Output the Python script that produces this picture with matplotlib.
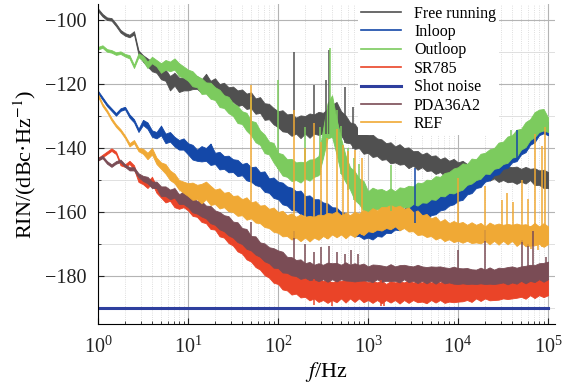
import numpy as np
import matplotlib
matplotlib.use('Agg')
import matplotlib.pyplot as plt
from matplotlib.lines import Line2D
from matplotlib.ticker import MultipleLocator, LogLocator, NullFormatter

plt.rcParams['font.family'] = ['Liberation Serif', 'DejaVu Serif']
plt.rcParams['mathtext.fontset'] = 'stix'

# frequency grid, 20 points per decade, 1 Hz .. 100 kHz
freq = np.logspace(0, 5, 101)

# RIN bands (lower / upper edge of the noisy trace), dBc/Hz
free_lo = [-97.2, -98.9, -100, -100.2, -101.9, -103.9, -104.9, -105.4, -104.5, -110.8, -113, -114.5, -116, -116.5, -118.5, -119, -122, -120.5, -122.5, -122,
           -122, -121.6, -121.5, -122.7, -121.5, -123.6, -122.5, -124.7, -124.5, -125.8, -125.5, -126.9, -126.5, -127.8, -127.5, -129.3, -129, -131.2, -131, -132.6,
           -133.5, -134.8, -135, -136.2, -135.5, -136.9, -135.5, -136.8, -135.5, -135.9, -135.5, -135.7, -134.5, -134.8, -136, -138.3, -138.5, -140.3, -140, -141.8,
           -141.5, -142.8, -142.5, -143.7, -143.5, -144.8, -144.5, -145.2, -145, -146.3, -145.5, -146.8, -146, -147.2, -147, -148.1, -147.5, -148.7, -148, -149.1,
           -148.5, -149.2, -148.5, -149.6, -149, -149.7, -149, -150.2, -149.5, -150.6, -150, -150.7, -150.5, -151.2, -150.5, -151.1, -150, -151.6, -151.5, -152.5, -152.5]
free_hi = [-96.4, -98.1, -99.2, -99.4, -101.1, -103.1, -104.1, -104.6, -103.5, -109.5, -111, -112, -113, -113.5, -115, -115.5, -117.5, -116.5, -118, -118,
           -118.5, -117.2, -117.5, -118.6, -116.8, -119, -118.2, -120, -119.6, -121, -120.8, -122, -121.7, -123, -122.6, -124.5, -124.1, -126, -126.2, -127.5,
           -128.5, -128.2, -129.5, -129.3, -130.5, -129.8, -130, -129.2, -129.5, -128.7, -129, -127.8, -126.5, -125.6, -128.5, -129.8, -132, -132.4, -134.5, -134.8,
           -136, -135.8, -137, -137.3, -138.5, -138.2, -139.5, -138.8, -140, -139.8, -141, -140.9, -142, -141.4, -142.5, -142.3, -143.5, -142.9, -144, -143.4,
           -144.5, -144, -145, -144.3, -145, -144.8, -145, -144.7, -145.5, -145.2, -146, -145.7, -146, -145.8, -146.5, -145.9, -146.5, -146.3, -147, -146.8, -147.5]

inloop_lo = [-122.9, -124.9, -126.9, -128.4, -129.9, -128.4, -127.9, -130.5, -132, -135, -132.8, -134, -136.5, -137, -136, -138.5, -138, -139.5, -140.5, -140.5,
             -142, -143.6, -144, -144.2, -144, -145.3, -145, -146.7, -146.5, -147.6, -147.5, -148.8, -148.5, -150.1, -150.5, -151.6, -152, -153.7, -154, -155.6,
             -156, -157.6, -158, -159.4, -159.5, -160.7, -161, -162.2, -162, -163.3, -163, -164.1, -164, -165.6, -165.5, -166.7, -166.5, -167.6, -167.5, -168.4,
             -168, -168.6, -167.5, -167.7, -166.5, -166.6, -165.5, -165.7, -164.5, -164.6, -163.5, -163.7, -162, -162.3, -161, -160.7, -159.5, -159.2, -158, -157.6,
             -156.5, -156.2, -154.5, -154.1, -152.5, -152.2, -150.5, -150.1, -148.5, -148.2, -146.5, -146.2, -144.5, -144.1, -142, -141.3, -139, -138.2, -136, -135.4, -136]
inloop_hi = [-122.1, -124.1, -126.1, -127.6, -129.1, -127.6, -127.1, -129.5, -131, -134, -131.2, -132, -134.5, -135, -133, -135.5, -135, -136.5, -137.5, -137,
             -138.5, -139, -140.5, -139.4, -140, -138.6, -141.5, -141.2, -142.5, -142.4, -143.5, -143.7, -145, -144.6, -146, -145.8, -147.5, -147.3, -149.5, -149.2,
             -150.5, -150.8, -152, -152.4, -153.5, -153.3, -155, -154.8, -156, -156, -157, -157.3, -158.5, -158.6, -160, -160.3, -161.5, -161.4, -162.5, -162.4,
             -163, -162.4, -162.5, -161.5, -161.5, -160.4, -160, -159, -159, -157.6, -157.5, -156.6, -156.5, -155.4, -155, -154, -153.5, -152.6, -152, -151.2,
             -150, -148.7, -148, -146.6, -146, -144.7, -144, -142.6, -142, -140.6, -140, -138.6, -138, -136.7, -136, -134.2, -133, -130.6, -130, -129.6, -132]

outloop_lo = [-109.2, -108.7, -109.9, -110.2, -110.9, -110.6, -111.4, -112, -115, -111.6, -112.8, -115, -113.5, -114.5, -116.5, -115.5, -116, -115.5, -117.5, -118,
              -119, -120.7, -121, -123.1, -123, -124.6, -125, -127.2, -127.5, -129.1, -130, -132.2, -132.5, -134.6, -136, -138.2, -139, -141.6, -142, -144.5,
              -146.5, -148.6, -149, -150.3, -150, -150.8, -149.5, -150.2, -149, -148.5, -143, -137, -136.5, -142, -148, -150.6, -153, -156.2, -157.5, -159.6,
              -160, -159.8, -159, -159.7, -159.5, -159.6, -159.5, -159.4, -158.5, -158.6, -157.5, -158, -157, -157.1, -156, -156.2, -155, -155.1, -154, -154.2,
              -153.5, -153, -151.5, -151.1, -150, -149.6, -148, -148.1, -146.5, -146.2, -145, -144.6, -143, -142.7, -140.5, -139.7, -137.5, -136.6, -135, -134.5, -135]
outloop_hi = [-108.4, -107.9, -109.1, -109.4, -110.1, -109.8, -110.6, -111, -114, -110.4, -111.2, -113, -111.5, -112.5, -113.5, -112.5, -113, -112, -113.5, -114.5,
              -115.5, -116, -117.5, -118.2, -119.5, -119.6, -121, -121.8, -123.5, -124, -126, -126.8, -128.5, -129, -131.5, -131.9, -134.5, -135.8, -138, -138.4,
              -141.5, -141.9, -143.5, -143.4, -144.5, -144.3, -144.5, -143.6, -143.5, -142.5, -134, -126, -123.5, -131, -137, -142.3, -146, -147.2, -149.5, -150.3,
              -153.5, -152.4, -153, -152.8, -153.5, -152.6, -153.5, -152.3, -152.5, -151.8, -152, -150.8, -151, -149.9, -150, -148.8, -149, -147.8, -147.5, -146.4,
              -146, -144.8, -145, -143.3, -143.5, -141.8, -141.5, -140.4, -140, -138.3, -138, -136.4, -136, -134.3, -134, -131.9, -131, -128.8, -128, -127.8, -130.5]

sr785_lo = [-143.9, -142.9, -141.9, -140.9, -141.9, -145.4, -145.9, -145, -146.6, -150.6, -151.3, -152.5, -151, -154, -155.5, -157, -156.5, -158.5, -159, -158.5,
            -159.5, -161.2, -161.5, -163.1, -163.5, -165.3, -165.5, -167.6, -168, -169.7, -170.5, -172.3, -173, -174.8, -175.5, -177.2, -178, -179.7, -180.5, -182.1,
            -182.5, -184.2, -184.5, -185.8, -185.5, -186.7, -186.5, -187.6, -187, -188.1, -187.5, -188.4, -187.5, -188.2, -187, -188.3, -187, -188.1, -187, -188.2,
            -187.5, -188.4, -187.5, -188.5, -187.5, -188.3, -187.5, -188.6, -187.5, -188.4, -187.5, -188.2, -188, -188.5, -187.5, -188.3, -187.5, -188.4, -188, -188.2,
            -188, -187.9, -187.5, -188.1, -187, -187.8, -187, -187.6, -187.5, -187.4, -187, -187.2, -187, -186.8, -186.5, -187.1, -186, -186.9, -186, -186.6, -186]
sr785_hi = [-143.1, -142.1, -141.1, -140.1, -141.1, -144.6, -145.1, -144, -145.4, -149.4, -149.7, -150.5, -149, -152, -153.5, -154, -153.5, -155.5, -156, -155,
            -155.5, -155.9, -157, -157.3, -159, -159.3, -161, -161.2, -163, -163.4, -165.5, -165.8, -167.5, -168.2, -170, -170.3, -172.5, -172.8, -175, -175.4,
            -177, -177.3, -178.5, -178.6, -179.5, -179.4, -180.5, -180.3, -181, -180.8, -181.5, -181.2, -182, -181.4, -181.5, -181.1, -181.5, -181.4, -181.5, -181.3,
            -182, -181.5, -182, -181.4, -182.5, -181.6, -182, -181.7, -182, -181.3, -182, -181.8, -182, -181.4, -182, -181.7, -182, -181.5, -182, -181.4,
            -182.5, -181.6, -182, -181.7, -182, -181.3, -182, -181.1, -182, -181.2, -181.5, -181, -181, -180.8, -181, -180.5, -181, -180.4, -181, -180.3, -181]

shot_f = [1, 1e5]
shot = [-190, -190]

pda_lo = [-143.9, -143.2, -144.9, -145.9, -144.9, -144.4, -145.9, -147, -147, -149.1, -150.3, -151, -152.5, -152.5, -155, -155, -156, -155.5, -157.5, -157.5,
          -158.5, -160.1, -160.5, -161.4, -162, -163.5, -164, -165.4, -166, -167.3, -168, -169.4, -170, -171.5, -172, -173.3, -174, -175.4, -176, -177.4,
          -177.5, -178.9, -179, -179.8, -180, -180.9, -180.5, -181.3, -181, -181.6, -181, -181.8, -181, -181.7, -181, -181.4, -181.5, -181.7, -181.5, -181.4,
          -181.5, -181.9, -181, -181.8, -181.5, -181.6, -181.5, -182, -181, -181.9, -181.5, -182.2, -181.5, -182.3, -181.5, -182.4, -181.5, -182.3, -182, -182.4,
          -182.5, -182.3, -182.5, -182.4, -182.5, -182.3, -182.5, -182.4, -182.5, -182.3, -182, -182.6, -182, -182.4, -181.5, -182.3, -181.5, -181.9, -181, -181.8, -181]
pda_hi = [-143.1, -142.4, -144.1, -145.1, -144.1, -143.6, -145.1, -146, -146, -147.9, -148.7, -149, -150.5, -150.5, -152, -152, -153, -152.5, -154.5, -153.5,
          -155, -155.3, -156.5, -156.6, -158, -158.1, -159.5, -160, -161, -161.3, -163, -163.2, -165, -165.3, -167.5, -167.6, -169.5, -169.8, -171, -171.3,
          -172, -172.4, -174, -174.1, -175, -174.8, -176, -175.6, -176.5, -176, -176.5, -175.8, -176, -175.9, -176.5, -175.7, -176.5, -176, -176.5, -176.1,
          -177, -176.4, -176.5, -176.7, -177, -176.3, -177, -176.6, -176.5, -176.8, -177, -176.5, -177, -177.2, -177, -177.1, -177, -177.3, -177.5, -177.1,
          -177.5, -177.6, -177.5, -177.9, -178, -177.4, -178, -177.3, -178, -177.4, -177.5, -177.2, -177, -177.4, -177, -176.8, -176.5, -176.6, -176, -175.9, -175.5]

ref_lo = [-123.9, -126.9, -128.9, -131.4, -133.4, -134.9, -136.9, -139.5, -138.5, -141, -141.8, -143.5, -142, -145, -146.5, -148, -150, -151, -153, -154,
          -155, -156.2, -156, -157.3, -156, -157.8, -157.5, -158.9, -158.5, -159.8, -160, -161.2, -161, -162.4, -162, -163.3, -163.5, -164.7, -165, -166.2,
          -166.5, -167.6, -167.5, -168.6, -168, -169.1, -168, -169.2, -168, -168.7, -167.5, -168.3, -167, -167.9, -167, -168.2, -167, -167.8, -166.5, -167.2,
          -166, -166.3, -165.5, -165.8, -165, -165.4, -164.5, -165.7, -165, -166.1, -166, -167.2, -167, -167.8, -167.5, -168.6, -168, -169.1, -168.5, -169.4,
          -169, -169.6, -169, -169.7, -169.5, -169.8, -169, -170.1, -169, -170.2, -169, -170.1, -169, -170.6, -169.5, -170.7, -170.5, -170.4, -170, -170.9, -170]
ref_hi = [-123.1, -126.1, -128.1, -130.6, -132.6, -134.1, -136.1, -138.5, -137.5, -140, -140.2, -141.5, -140, -143, -144.5, -145, -147, -148, -150, -150.5,
          -151, -150.8, -151.5, -151.2, -150.5, -151.8, -153, -152.6, -154, -153.7, -155, -154.8, -156, -155.4, -157, -156.6, -158, -157.8, -159, -158.6,
          -160, -159.6, -161, -160.4, -161.5, -160.7, -161.5, -161.2, -161.5, -160.8, -161, -160.3, -160.5, -159.8, -161, -160.2, -161, -159.9, -160.5, -159.4,
          -160, -158.8, -159.5, -158.4, -158.5, -157.8, -158.5, -158, -159, -158.6, -160, -159.5, -161, -160.6, -162, -161.4, -163, -162.2, -163.5, -162.8,
          -163.5, -163.1, -164, -163.2, -164, -163.4, -164.5, -163.3, -164, -163.6, -164, -163.7, -164, -163.6, -164, -163.8, -164.5, -163.4, -164.5, -163.5, -164.5]

# narrow spectral lines (frequency in Hz, level in dBc/Hz)
free_spk_f = [150, 250, 345, 370, 555, 680]
free_spk = [-109.9, -120.3, -118.8, -109.4, -120.8, -127.3]
inloop_spk_f = [18, 3300, 45000]
inloop_spk = [-139.5, -146.4, -134.4]
outloop_spk_f = [50, 100, 200, 290, 375, 450, 500, 600, 700, 800, 1800, 39000]
outloop_spk = [-124, -118.8, -133.5, -133.5, -108.6, -128, -133, -140, -143, -145, -145.3, -134.4]
sr785_spk_f = [250, 400, 1400, 1500]
sr785_spk = [-189, -189.5, -189.5, -189.5]
pda_spk_f = [50, 150, 200, 250, 300, 370, 450, 550, 650, 780, 10000, 20000, 51000, 60000, 68000, 95000]
pda_spk = [-163, -166, -170, -172.4, -171, -170.5, -172.4, -173, -172, -173, -172, -165.6, -168.8, -170, -166, -174]
ref_spk_f = [50, 150, 200, 250, 300, 350, 450, 530, 600, 720, 850, 10000, 20000, 31000, 35000, 41000, 51000, 60000,
             65000, 72000, 78000, 85000, 93000]
ref_spk = [-120.3, -128, -140, -132.3, -138, -137, -134, -139, -141, -140.6, -143, -149.5, -152, -156.3, -154, -157, -150, -156,
           -171.5, -135.5, -172, -139.5, -133.5]

labels = ['Free running', 'Inloop', 'Outloop', 'SR785', 'Shot noise', 'PDA36A2', 'REF']
colors = ['#505050', '#1448a8', '#7ccb5e', '#ea4428', '#2e3f9e', '#7a4c55', '#f0a935']

fig = plt.figure(figsize=(5.68, 3.86), dpi=100)
ax = fig.add_axes([0.1725, 0.1606, 0.805, 0.829])


def band(lo, hi, spk_f, spk, c):
    lo = np.array(lo)
    hi = np.array(hi)
    ax.fill_between(freq, lo, hi, color=c, lw=0.6)
    for f, v in zip(spk_f, spk):
        i = np.argmin(np.abs(np.log10(freq) - np.log10(f)))
        ax.vlines(f, min(v, lo[i]), max(v, hi[i]), color=c, lw=1.1)


band(free_lo, free_hi, free_spk_f, free_spk, colors[0])
band(inloop_lo, inloop_hi, inloop_spk_f, inloop_spk, colors[1])
band(outloop_lo, outloop_hi, outloop_spk_f, outloop_spk, colors[2])
band(sr785_lo, sr785_hi, sr785_spk_f, sr785_spk, colors[3])
ax.plot(shot_f, shot, color=colors[4], lw=2.2)
band(pda_lo, pda_hi, pda_spk_f, pda_spk, colors[5])
band(ref_lo, ref_hi, ref_spk_f, ref_spk, colors[6])

ax.set_xscale('log')
ax.set_xlim(1, 1.2e5)
ax.set_ylim(-195, -95)
ax.yaxis.set_major_locator(MultipleLocator(20))
ax.yaxis.set_minor_locator(MultipleLocator(10))
ax.xaxis.set_minor_locator(LogLocator(base=10, subs=np.arange(2, 10), numticks=20))
ax.xaxis.set_minor_formatter(NullFormatter())
ax.set_xticks([1, 10, 100, 1e3, 1e4, 1e5])

ax.grid(which='major', color='#b4b4b4', lw=0.8)
ax.grid(which='minor', axis='x', color='#d4d4d4', lw=0.6, ls=':')
ax.grid(which='minor', axis='y', color='#dadada', lw=0.6)
ax.set_axisbelow(True)

for s in ['top', 'right']:
    ax.spines[s].set_visible(False)
ax.tick_params(which='both', direction='in', labelsize=14.5, colors='#222222')
ax.tick_params(which='major', length=4)
ax.tick_params(which='minor', length=2.5)
ax.tick_params(axis='x', pad=9)
ax.tick_params(axis='y', pad=8)

ax.set_ylabel('RIN/(dBc·Hz$^{-1}$)', fontsize=16, labelpad=5)
ax.set_xlabel('$f$/Hz', fontsize=16, labelpad=2)

handles = [Line2D([], [], color=c, lw=2.2 if l == 'Shot noise' else 1.2) for l, c in zip(labels, colors)]
leg = ax.legend(handles, labels, loc='upper right', bbox_to_anchor=(0.895, 1.03), fontsize=11.5,
                frameon=True, fancybox=False, edgecolor='none', facecolor='white', framealpha=1,
                handlelength=2.5, labelspacing=0.15, borderpad=0.2, handletextpad=0.8)

fig.savefig('out.png', dpi=100)
